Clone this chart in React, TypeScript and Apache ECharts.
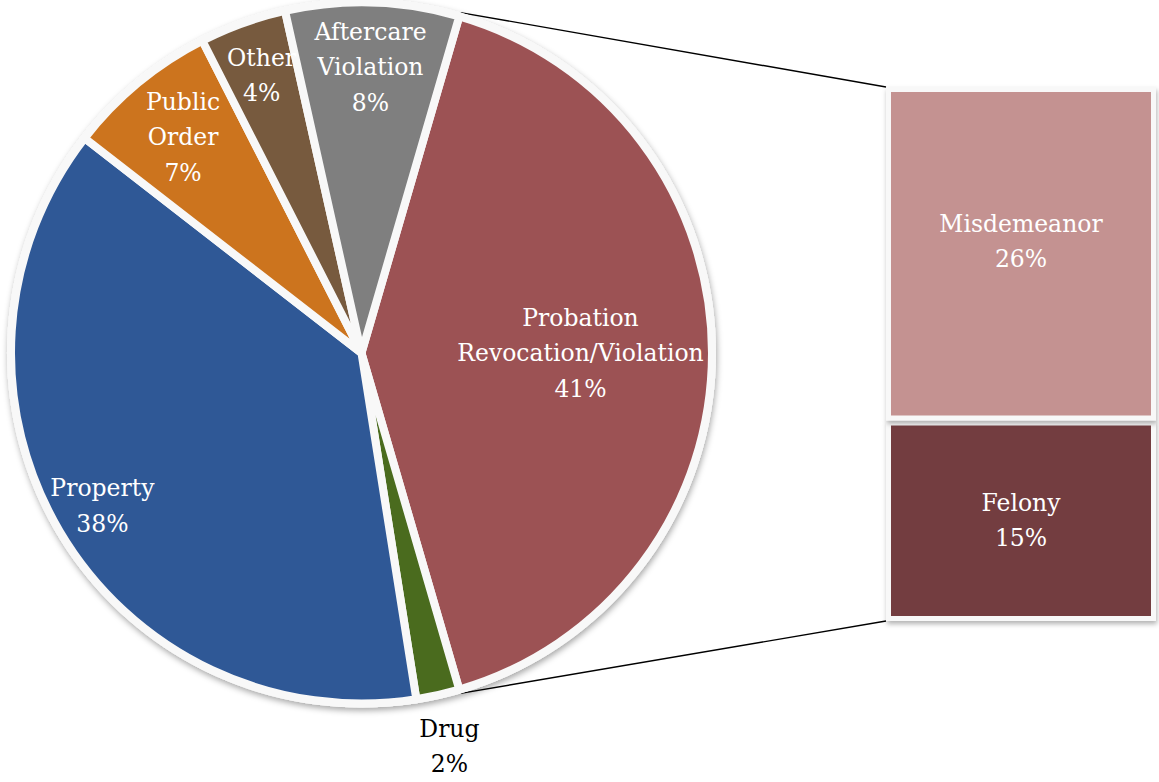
import React, { useEffect, useRef } from "react";
import * as echarts from "echarts";

const pieCategories = [
  "Probation Revocation/Violation",
  "Drug",
  "Property",
  "Public Order",
  "Other",
  "Aftercare Violation",
];
const pieLabelText = [
  "Probation\nRevocation/Violation",
  "Drug",
  "Property",
  "Public\nOrder",
  "Other",
  "Aftercare\nViolation",
];
const pieValues = [41, 2, 38, 7, 4, 8];
const pieColors = ["#9c5254", "#4a6b1e", "#2f5896", "#cc741e", "#775a3e", "#7f7f7f"];

const barCategories = ["Felony", "Misdemeanor"];
const barValues = [15.4, 25.6];
const barColors = ["#733d3f", "#c49291"];

const FONT = "DejaVu Serif";
const FONT_SIZE = 23.5;
const LINE_H = 35.5;

const CX = 361.5;
const CY = 353;
const R = 350.5;
const BORDER = 8;
// distance of each slice label from the pie centre
const LABEL_DIST = [216, 400, 298, 277, 292, 283];

const GRID_LEFT = 886;
const GRID_RIGHT_EDGE = 1156;
const GRID_TOP = 87;
const GRID_BOTTOM_EDGE = 621;
const BAR_BORDER = 5;

export default function App() {
  const ref = useRef<HTMLDivElement>(null);
  useEffect(() => {
    if (!ref.current) return;
    const chart = echarts.init(ref.current, undefined, { renderer: "svg" });
    const total = pieValues.reduce((a, b) => a + b, 0);
    const probSpan = (pieValues[0] / total) * 360;
    const startAngle = probSpan / 2;
    const rad = (d: number) => (d * Math.PI) / 180;
    const rOuter = R + BORDER / 2;
    const p1 = [CX + rOuter * Math.cos(rad(startAngle)), CY - rOuter * Math.sin(rad(startAngle))];
    const p2 = [CX + rOuter * Math.cos(rad(-startAngle)), CY - rOuter * Math.sin(rad(-startAngle))];
    const b1 = [GRID_LEFT, GRID_TOP];
    const b2 = [GRID_LEFT, GRID_BOTTOM_EDGE];

    const labelFmt = (p: any) => pieLabelText[p.dataIndex] + "\n" + pieValues[p.dataIndex] + "%";
    const labelPie = (idx: number) => {
      const d = LABEL_DIST[idx];
      const outer = Math.max(352, d + 20);
      return {
        type: "pie",
        center: [CX, CY],
        radius: [2 * d - outer, outer],
        startAngle,
        clockwise: true,
        silent: true,
        z: 5,
        avoidLabelOverlap: false,
        itemStyle: { color: "rgba(0,0,0,0)", borderWidth: 0 },
        label: {
          position: "inside",
          color: idx === 1 ? "#000000" : "#ffffff",
          fontFamily: FONT,
          fontSize: FONT_SIZE,
          lineHeight: LINE_H,
          formatter: labelFmt,
        },
        labelLine: { show: false },
        emphasis: { disabled: true },
        data: pieCategories.map((n, i) => ({ name: n, value: pieValues[i], label: { show: i === idx } })),
      };
    };

    chart.setOption({
      animation: false,
      backgroundColor: "#ffffff",
      grid: {
        left: GRID_LEFT,
        right: 1159 - GRID_RIGHT_EDGE,
        top: GRID_TOP,
        bottom: 782 - GRID_BOTTOM_EDGE,
      },
      xAxis: { type: "category", data: ["Other"], show: false },
      yAxis: { type: "value", min: 0, max: pieValues[0], show: false },
      graphic: [
        { type: "line", z: 0, shape: { x1: p1[0], y1: p1[1], x2: b1[0], y2: b1[1] }, style: { stroke: "#000", lineWidth: 1.4 } },
        { type: "line", z: 0, shape: { x1: p2[0], y1: p2[1], x2: b2[0], y2: b2[1] }, style: { stroke: "#000", lineWidth: 1.4 } },
      ],
      series: [
        {
          type: "pie",
          center: [CX, CY],
          radius: rOuter,
          silent: true,
          z: 1,
          label: { show: false },
          labelLine: { show: false },
          itemStyle: {
            color: "#f8f8f8",
            shadowBlur: 6,
            shadowOffsetX: 1,
            shadowOffsetY: 3,
            shadowColor: "rgba(0,0,0,0.35)",
          },
          data: [{ name: "bg", value: 1 }],
        },
        {
          type: "pie",
          center: [CX, CY],
          radius: R,
          startAngle,
          clockwise: true,
          silent: true,
          z: 2,
          label: { show: false },
          labelLine: { show: false },
          itemStyle: { borderColor: "#f8f8f8", borderWidth: BORDER },
          data: pieCategories.map((n, i) => ({ name: n, value: pieValues[i], itemStyle: { color: pieColors[i] } })),
        },
        ...pieCategories.map((_, i) => labelPie(i)),
        ...barCategories.map((n, i) => ({
          type: "bar",
          name: n,
          stack: "split",
          barWidth: "100%",
          silent: true,
          data: [barValues[i]],
          itemStyle: {
            color: barColors[i],
            borderColor: "#f8f8f8",
            borderWidth: BAR_BORDER,
            shadowBlur: 5,
            shadowOffsetX: 1,
            shadowOffsetY: 3,
            shadowColor: "rgba(0,0,0,0.3)",
          },
          label: {
            show: true,
            position: "inside",
            offset: i === 1 ? [0, -12] : [0, 0],
            color: "#ffffff",
            fontFamily: FONT,
            fontSize: FONT_SIZE,
            lineHeight: LINE_H,
            formatter: () => n + "\n" + Math.round(barValues[i]) + "%",
          },
        })),
      ],
    });
    return () => chart.dispose();
  }, []);
  return (
    <div
      ref={ref}
      style={{ position: "absolute", left: 0, top: 0, width: 1159, height: 782 }}
    />
  );
}
